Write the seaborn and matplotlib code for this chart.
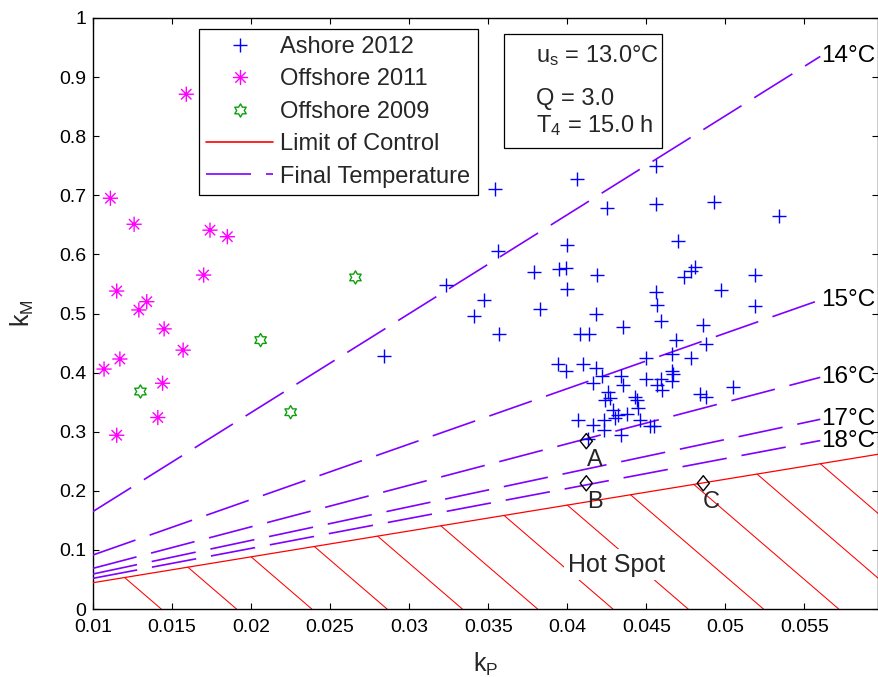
import numpy as np
import pandas as pd
import matplotlib
matplotlib.use("Agg")
import matplotlib.pyplot as plt
import seaborn as sns
from matplotlib.path import Path
from matplotlib.lines import Line2D
from matplotlib.patches import Rectangle

# ---------------- data ----------------
ashore_kp = [0.0354, 0.0406, 0.0356, 0.0323, 0.0400, 0.0379, 0.0395, 0.0399, 0.0400, 0.0347,
             0.0341, 0.0383, 0.0357, 0.0284, 0.0456, 0.0425, 0.0456, 0.0493, 0.0534, 0.0470,
             0.0481, 0.0478, 0.0474, 0.0419, 0.0519, 0.0456, 0.0497, 0.0457, 0.0519, 0.0418,
             0.0459, 0.0435, 0.0486, 0.0408, 0.0414, 0.0469, 0.0488, 0.0450, 0.0466, 0.0478,
             0.0394, 0.0399, 0.0410, 0.0418, 0.0422, 0.0434, 0.0435, 0.0416, 0.0450, 0.0459,
             0.0466, 0.0467, 0.0466, 0.0457, 0.0460, 0.0484, 0.0488, 0.0426, 0.0424, 0.0427,
             0.0443, 0.0444, 0.0445, 0.0429, 0.0432, 0.0438, 0.0430, 0.0407, 0.0416, 0.0423,
             0.0423, 0.0446, 0.0452, 0.0455, 0.0434, 0.0505, 0.0413]
ashore_km = [0.711, 0.727, 0.606, 0.549, 0.616, 0.570, 0.575, 0.577, 0.541, 0.522,
             0.495, 0.508, 0.466, 0.428, 0.750, 0.679, 0.685, 0.688, 0.665, 0.622,
             0.579, 0.572, 0.561, 0.565, 0.565, 0.536, 0.540, 0.514, 0.512, 0.499,
             0.487, 0.478, 0.481, 0.465, 0.465, 0.456, 0.448, 0.424, 0.432, 0.424,
             0.415, 0.403, 0.415, 0.407, 0.394, 0.394, 0.379, 0.382, 0.389, 0.390,
             0.403, 0.398, 0.385, 0.379, 0.371, 0.364, 0.359, 0.368, 0.354, 0.357,
             0.358, 0.354, 0.340, 0.336, 0.328, 0.330, 0.323, 0.320, 0.311, 0.320,
             0.303, 0.320, 0.310, 0.309, 0.294, 0.376, 0.287]

off2011_kp = [0.0159, 0.0111, 0.0126, 0.0174, 0.0185, 0.0170, 0.0115, 0.0134,
              0.0129, 0.0145, 0.0157, 0.0117, 0.0107, 0.0144, 0.0141, 0.0115]
off2011_km = [0.871, 0.695, 0.651, 0.641, 0.630, 0.565, 0.538, 0.520,
              0.506, 0.474, 0.438, 0.423, 0.406, 0.382, 0.324, 0.294]

off2009_kp = [0.0266, 0.0206, 0.0130, 0.0225]
off2009_km = [0.561, 0.455, 0.368, 0.333]

case_labels = ["A", "B", "C"]
case_kp = [0.0412, 0.0412, 0.0486]
case_km = [0.284, 0.2127, 0.2127]

temp_labels = ["14°C", "15°C", "16°C", "17°C", "18°C"]
temp_kp = [0.01, 0.056]
temp_km_start = [0.165, 0.0914, 0.0688, 0.0592, 0.0519]
temp_km_end = [0.935, 0.523, 0.392, 0.321, 0.285]

limit_kp = [0.01, 0.0597]
limit_km = [0.0445, 0.262]

xtick_vals = [0.01, 0.015, 0.02, 0.025, 0.03, 0.035, 0.04, 0.045, 0.05, 0.055]
xtick_labels = ["0.01", "0.015", "0.02", "0.025", "0.03", "0.035", "0.04", "0.045", "0.05", "0.055"]
ytick_vals = [0, 0.1, 0.2, 0.3, 0.4, 0.5, 0.6, 0.7, 0.8, 0.9, 1.0]
ytick_labels = ["0", "0.1", "0.2", "0.3", "0.4", "0.5", "0.6", "0.7", "0.8", "0.9", "1"]

# ---------------- style ----------------
sns.set_theme(style="ticks")
plt.rcParams["font.family"] = ["Liberation Sans", "DejaVu Sans"]
plt.rcParams["mathtext.default"] = "regular"
plt.rcParams["axes.edgecolor"] = "black"
plt.rcParams["axes.linewidth"] = 1.0

BLUE = "#0000ff"
MAGENTA = "#ff00ff"
GREEN = "#0aa00a"
PURPLE = "#8000ff"
RED = "#ff0000"
DASH = (0, (27, 9))

# custom markers (MATLAB-like '*' and hexagram)
d = 0.68
asterisk = Path([(0, -1), (0, 1), (-1, 0), (1, 0), (-d, -d), (d, d), (-d, d), (d, -d)],
                [Path.MOVETO, Path.LINETO] * 4)
hexagram = Path.unit_regular_star(6, innerCircle=0.577)
dverts = [(0, 1), (0.8, 0), (0, -1), (-0.8, 0), (0, 1)]
diamond = Path(dverts, [Path.MOVETO, Path.LINETO, Path.LINETO, Path.LINETO, Path.CLOSEPOLY])

fig = plt.figure(figsize=(8.79, 6.77), dpi=100)
ax = fig.add_axes([93 / 879, 68 / 677, 785 / 879, 591 / 677])

# ---------------- hatch of the hot-spot region ----------------
hatch_slope = 23.0
starts = np.arange(0.012, 0.0565, 0.004)
rows = []
for i, x0 in enumerate(starts):
    y0 = np.interp(x0, limit_kp, limit_km)
    rows.append((i, x0, y0))
    rows.append((i, x0 + y0 / hatch_slope, 0.0))
hatch_df = pd.DataFrame(rows, columns=["u", "kp", "km"])
sns.lineplot(data=hatch_df, x="kp", y="km", units="u", estimator=None, sort=False,
             color=RED, linewidth=0.75, ax=ax, zorder=2, legend=False)

# ---------------- limit of control ----------------
lim_df = pd.DataFrame({"kp": limit_kp, "km": limit_km})
sns.lineplot(data=lim_df, x="kp", y="km", color=RED, linewidth=0.9, ax=ax, zorder=3,
             legend=False)

# ---------------- final temperature lines ----------------
trows = []
for lab, ys, ye in zip(temp_labels, temp_km_start, temp_km_end):
    trows.append((lab, temp_kp[0], ys))
    trows.append((lab, temp_kp[1], ye))
temp_df = pd.DataFrame(trows, columns=["T", "kp", "km"])
sns.lineplot(data=temp_df, x="kp", y="km", units="T", estimator=None, sort=False,
             color=PURPLE, linewidth=1.2, linestyle=DASH, ax=ax, zorder=3, legend=False)
for lab, ye in zip(temp_labels, temp_km_end):
    ax.text(0.05605, ye, lab, ha="left", va="center", fontsize=17.5, color="black", zorder=6)

# ---------------- scatter series ----------------
sns.scatterplot(x=ashore_kp, y=ashore_km, marker="+", s=95, color=BLUE, linewidth=1.0,
                ax=ax, zorder=4, legend=False)
sns.scatterplot(x=off2011_kp, y=off2011_km, marker=asterisk, s=120, facecolor="none",
                edgecolor=MAGENTA, linewidth=1.0, ax=ax, zorder=4, legend=False)
sns.scatterplot(x=off2009_kp, y=off2009_km, marker=hexagram, s=90, facecolor="none",
                edgecolor=GREEN, linewidth=1.0, ax=ax, zorder=4, legend=False)
sns.scatterplot(x=case_kp, y=case_km, marker=diamond, s=120, facecolor="none",
                edgecolor="black", linewidth=1.0, ax=ax, zorder=5, legend=False)
for lab, xk, yk in zip(case_labels, case_kp, case_km):
    ax.annotate(lab, (xk, yk), xytext=(6, -13.5), textcoords="offset points",
                ha="center", va="center", fontsize=17, zorder=6)

ax.text(0.04002, 0.063, "Hot Spot", ha="left", va="baseline", fontsize=18, zorder=6,
        bbox=dict(facecolor="white", edgecolor="none", pad=2.5))

# ---------------- axes ----------------
ax.set_xlim(0.01, 0.05965)
ax.set_ylim(0, 1)
ax.set_xticks(xtick_vals)
ax.set_xticklabels(xtick_labels)
ax.set_yticks(ytick_vals)
ax.set_yticklabels(ytick_labels)
ax.tick_params(direction="in", length=4.3, width=0.8, top=True, right=True,
               labelsize=14, pad=5, colors="black")
ax.tick_params(axis="x", pad=7)
for sp in ax.spines.values():
    sp.set_visible(True)
    sp.set_color("black")
    sp.set_linewidth(1.0)
ax.set_xlabel("k$_P$", fontsize=18)
ax.set_ylabel("k$_M$", fontsize=18)
ax.xaxis.set_label_coords(0.5, -0.07)
ax.yaxis.set_label_coords(-0.072, 0.5)

# ---------------- parameter box ----------------
ax.add_patch(Rectangle((0.5233, 0.7805), 0.2015, 0.1919, transform=ax.transAxes,
                       facecolor="white", edgecolor="black", linewidth=0.9, zorder=7))
ax.text(0.5645, 0.926, "u$_s$ = 13.0°C", transform=ax.transAxes, fontsize=17,
        va="baseline", ha="left", zorder=8)
ax.text(0.5645, 0.8528, "Q = 3.0", transform=ax.transAxes, fontsize=17,
        va="baseline", ha="left", zorder=8)
ax.text(0.5645, 0.8066, "T$_4$ = 15.0 h", transform=ax.transAxes, fontsize=17,
        va="baseline", ha="left", zorder=8)

# ---------------- legend ----------------
handles = [
    Line2D([], [], marker="+", ls="none", color=BLUE, ms=9.5, mew=1.0),
    Line2D([], [], marker=asterisk, ls="none", color=MAGENTA, ms=11, mew=1.0),
    Line2D([], [], marker=hexagram, ls="none", mfc="none", mec=GREEN, ms=9.5, mew=1.0),
    Line2D([], [], color=RED, lw=1.2),
    Line2D([], [], color=PURPLE, lw=1.2, linestyle=DASH),
]
labels = ["Ashore 2012", "Offshore 2011", "Offshore 2009", "Limit of Control",
          "Final Temperature"]
leg = ax.legend(handles, labels, loc="upper left", bbox_to_anchor=(0.1349, 0.9814),
                borderaxespad=0, fontsize=17, frameon=True, fancybox=False,
                framealpha=1, edgecolor="black", handlelength=2.85, handletextpad=0.3,
                labelspacing=0.44, borderpad=0.3)
leg.get_frame().set_linewidth(0.9)
leg.set_zorder(9)

fig.savefig("out.png", dpi=100)
